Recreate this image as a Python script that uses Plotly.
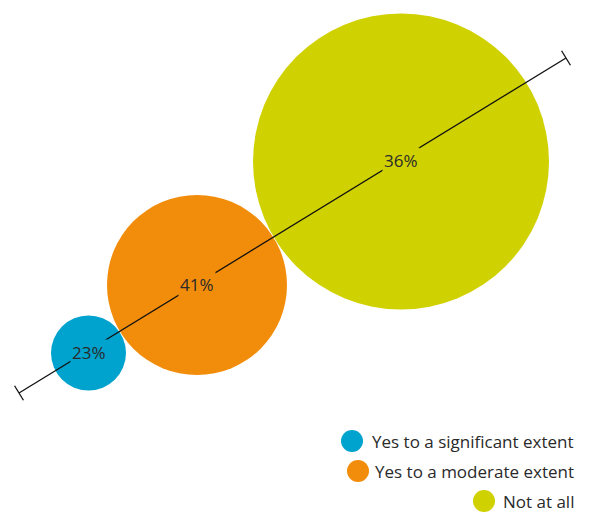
import plotly.graph_objects as go

# Data
categories = ["Yes to a significant extent", "Yes to a moderate extent", "Not at all"]
values = [23, 41, 36]
labels = [f"{v}%" for v in values]

# Layout / style (pixel coordinates on a 592x512 canvas)
colors = ["#00A2CE", "#F28D0C", "#D0D100"]
cx = [88.5, 197, 401]
cy = [353, 285, 161.5]
diam = [75, 180, 296]
line_start = (19, 393)
line_end = (566, 58)
legend_marker_x = [352, 358, 484]
legend_y = [441, 471, 501]

W, H = 592, 512
FONT = "Open Sans"

fig = go.Figure()

# circles
for i in range(3):
    fig.add_trace(go.Scatter(
        x=[cx[i]], y=[cy[i]], mode="markers",
        marker=dict(size=diam[i], color=colors[i], line=dict(width=0)),
        hoverinfo="skip", showlegend=False))

# diagonal axis line with end caps
x0, y0 = line_start
x1, y1 = line_end
dx, dy = x1 - x0, y1 - y0
L = (dx * dx + dy * dy) ** 0.5
px_, py_ = -dy / L, dx / L
c = 8.5
fig.add_trace(go.Scatter(
    x=[x0, x1, None, x0 - px_ * c, x0 + px_ * c, None, x1 - px_ * c, x1 + px_ * c],
    y=[y0, y1, None, y0 - py_ * c, y0 + py_ * c, None, y1 - py_ * c, y1 + py_ * c],
    mode="lines", line=dict(color="#111111", width=1.3),
    hoverinfo="skip", showlegend=False))

# value labels
for i in range(3):
    fig.add_annotation(x=cx[i], y=cy[i] - 1, text=labels[i], showarrow=False,
                       font=dict(family=FONT, size=17, color="#2a2a2a"),
                       bgcolor=colors[i], borderpad=1, xanchor="center", yanchor="middle")

# legend
for i in range(3):
    fig.add_trace(go.Scatter(
        x=[legend_marker_x[i]], y=[legend_y[i]], mode="markers",
        marker=dict(size=22, color=colors[i], line=dict(width=0)),
        hoverinfo="skip", showlegend=False))
    fig.add_annotation(x=576, y=legend_y[i], text=categories[i], showarrow=False,
                       font=dict(family=FONT, size=17, color="#2a2a2a"),
                       xanchor="right", yanchor="middle")

fig.update_xaxes(range=[0, W], visible=False, fixedrange=True)
fig.update_yaxes(range=[H, 0], visible=False, fixedrange=True)
fig.update_layout(width=W, height=H, margin=dict(l=0, r=0, t=0, b=0),
                  plot_bgcolor="white", paper_bgcolor="white")

fig.write_html("out.html")
